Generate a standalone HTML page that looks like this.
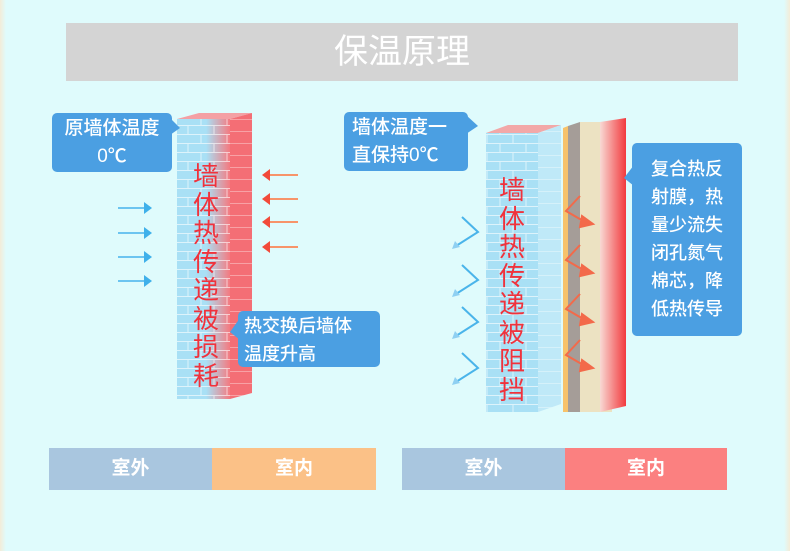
<!DOCTYPE html>
<html><head><meta charset="utf-8"><style>
body{margin:0;width:790px;height:551px;overflow:hidden;background:#dffbfc;font-family:"Liberation Sans","Noto Sans CJK SC",sans-serif;}
.abs{position:absolute}
.bub{position:absolute;background:#4b9fe2;color:#fff;border-radius:5px;font-size:19px;line-height:28px;text-align:center;font-weight:500}
.vt{position:absolute;color:#f0323c;font-size:26px;line-height:28.5px;width:32px;text-align:center}
.bar{position:absolute;color:#fff;font-size:19px;font-weight:bold;text-align:center;line-height:42px;height:42px}
</style></head><body>
<div class="abs" style="left:0;top:0;width:790px;height:551px;background:linear-gradient(90deg,#f3ecd8 0,#dffbfc 6px,#dffbfc 784px,#f3ecd8 790px)"></div>
<div class="abs" style="left:66px;top:23px;width:672px;height:58px;background:#d4d4d4;color:#fff;font-size:34px;line-height:58px;text-align:center">保温原理</div>

<svg class="abs" style="left:0;top:0" width="790" height="551">
<defs>
<linearGradient id="g1" x1="0" x2="1"><stop offset="0" stop-color="#a9e0f5"/><stop offset="0.55" stop-color="#a9e0f5"/><stop offset="1" stop-color="#f47a80"/></linearGradient>
<pattern id="br" width="26" height="18" patternUnits="userSpaceOnUse"><path d="M0 17.5H26M0 8.5H26M6 0V9M19 9V18" stroke="#fff" stroke-opacity="0.6" stroke-width="1" fill="none"/></pattern>
<pattern id="br2" width="22" height="12" patternUnits="userSpaceOnUse"><path d="M0 11.5H22" stroke="#fff" stroke-opacity="0.35" fill="none"/></pattern>
<linearGradient id="rg" x1="0" x2="1"><stop offset="0" stop-color="#f8d9d4"/><stop offset="1" stop-color="#f23a3e"/></linearGradient>
</defs>
<!-- left wall -->
<polygon points="177,119 199,113 252,113 230,119" fill="#f4a0a4"/>
<rect x="177" y="119" width="53" height="280" fill="url(#g1)"/>
<rect x="177" y="119" width="53" height="280" fill="url(#br)"/>
<polygon points="230,119 252,113 252,393 230,399" fill="#f46e75"/>
<polygon points="230,119 252,113 252,393 230,399" fill="url(#br2)"/>
<!-- blue arrows left -->
<g stroke="#6cc4f0" stroke-width="2" fill="#3fb0ea">
<line x1="118" y1="208" x2="146" y2="208"/><polygon points="144,202 152,208 144,214" stroke="none"/>
<line x1="118" y1="233" x2="146" y2="233"/><polygon points="144,227 152,233 144,239" stroke="none"/>
<line x1="118" y1="257" x2="146" y2="257"/><polygon points="144,251 152,257 144,263" stroke="none"/>
<line x1="118" y1="281" x2="146" y2="281"/><polygon points="144,275 152,281 144,287" stroke="none"/>
</g>
<g stroke-width="2" fill="#f24a3a">
<line x1="268" y1="175" x2="298" y2="175" stroke="#f7946a"/><polygon points="270,169 262,175 270,181"/>
<line x1="268" y1="199" x2="298" y2="199" stroke="#f7946a"/><polygon points="270,193 262,199 270,205"/>
<line x1="268" y1="222" x2="298" y2="222" stroke="#f7946a"/><polygon points="270,216 262,222 270,228"/>
<line x1="268" y1="247" x2="298" y2="247" stroke="#f7946a"/><polygon points="270,241 262,247 270,253"/>
</g>
<!-- right wall -->
<polygon points="486,133 508,125 561,125 538,133" fill="#f2a8a8"/>
<rect x="486" y="133" width="52" height="279" fill="#a9e0f5"/>
<rect x="486" y="133" width="52" height="279" fill="url(#br)"/>
<polygon points="538,133 561,125 561,404 538,412" fill="#bfe9f8"/>
<polygon points="538,133 561,125 561,404 538,412" fill="url(#br2)"/>
<!-- layers -->
<polygon points="563,128 568,126 568,412 563,412" fill="#f7c26a"/>
<polygon points="568,126 580,122 580,412 568,412" fill="#a59d98"/>
<polygon points="580,122 612,122 612,412 580,412" fill="#ece2c2"/>
<polygon points="600,122 626,118 626,406 600,412" fill="url(#rg)"/>
<!-- chevrons left of right wall -->
<g stroke="#4ab4ea" stroke-width="2" fill="#8fd0f2">
<polyline points="462,217 478,232 456,246" fill="none"/><polygon points="452,249 455,241 460,247" stroke="none"/>
<polyline points="462,265 478,280 456,294" fill="none"/><polygon points="452,297 455,289 460,295" stroke="none"/>
<polyline points="462,307 478,322 456,336" fill="none"/><polygon points="452,339 455,331 460,337" stroke="none"/>
<polyline points="462,353 478,368 456,382" fill="none"/><polygon points="452,385 455,377 460,383" stroke="none"/>
</g>
<!-- orange reflect arrows -->
<g stroke="#f36a4a" stroke-width="2" fill="#f36a4a">
<polyline points="580,196 566,211 585,222" fill="none"/><polygon points="582,216 593,224 580,227"/>
<polyline points="580,245 566,260 585,271" fill="none"/><polygon points="582,265 593,273 580,276"/>
<polyline points="580,294 566,309 585,320" fill="none"/><polygon points="582,314 593,322 580,325"/>
<polyline points="580,340 566,355 585,366" fill="none"/><polygon points="582,360 593,368 580,371"/>
</g>
<!-- bubble tails -->
<polygon points="170,118 180,128 170,135" fill="#4b9fe2"/>
<polygon points="240,318 230,332 240,340" fill="#4b9fe2"/>
<polygon points="466,115 478,126 466,134" fill="#4b9fe2"/>
<polygon points="634,165 624,178 634,186" fill="#4b9fe2"/>
</svg>

<div class="bub" style="left:52px;top:113px;width:120px;height:59px;padding-top:2px;box-sizing:border-box">原墙体温度<br>0℃</div>
<div class="bub" style="left:238px;top:311px;width:142px;height:56px;padding:1px 0 0 6px;box-sizing:border-box;font-size:18px;text-align:left">热交换后墙体<br>温度升高</div>
<div class="bub" style="left:344px;top:112px;width:124px;height:59px;padding:2px 0 0 8px;box-sizing:border-box;text-align:left">墙体温度一<br>直保持0℃</div>
<div class="bub" style="left:632px;top:143px;width:110px;height:193px;padding-top:12px;box-sizing:border-box;font-size:18px;line-height:28px">复合热反<br>射膜，热<br>量少流失<br>闭孔氮气<br>棉芯，降<br>低热传导</div>

<div class="vt" style="left:190px;top:162px">墙<br>体<br>热<br>传<br>递<br>被<br>损<br>耗</div>
<div class="vt" style="left:496px;top:176px">墙<br>体<br>热<br>传<br>递<br>被<br>阻<br>挡</div>

<div class="bar" style="left:49px;top:448px;width:163px;background:#a9c6df">室外</div>
<div class="bar" style="left:212px;top:448px;width:164px;background:#fbc187">室内</div>
<div class="bar" style="left:402px;top:448px;width:163px;background:#a9c6df">室外</div>
<div class="bar" style="left:565px;top:448px;width:162px;background:#fb8080">室内</div>
</body></html>
